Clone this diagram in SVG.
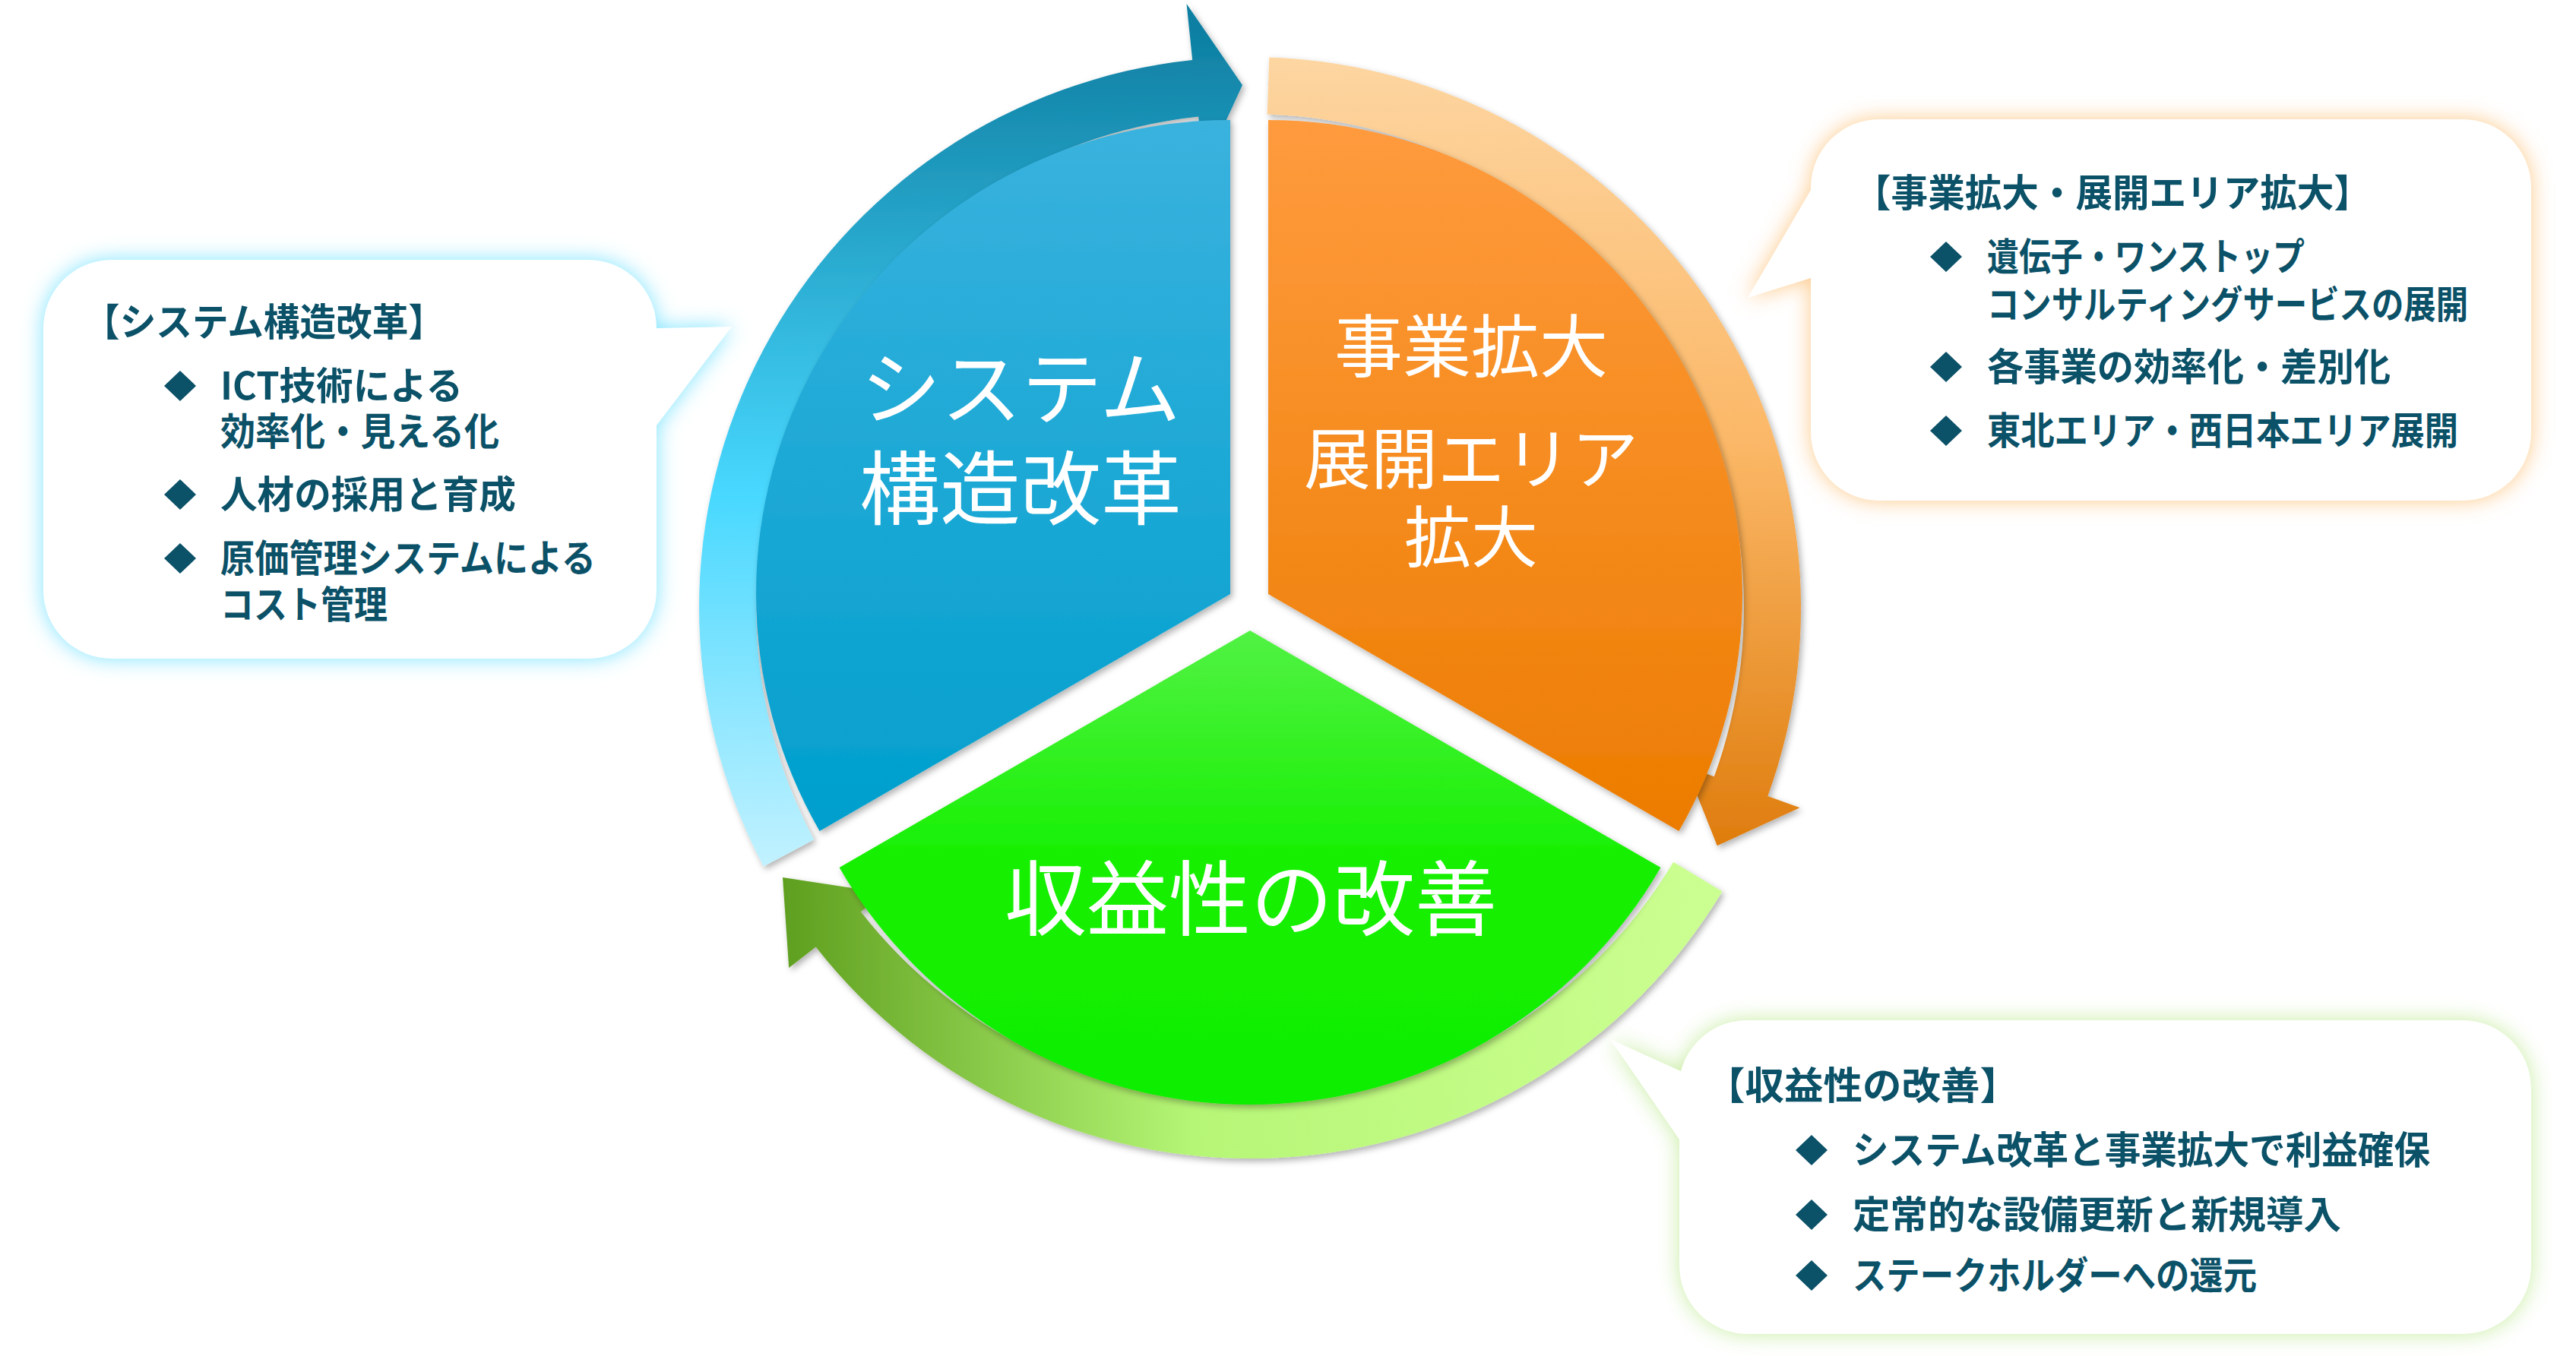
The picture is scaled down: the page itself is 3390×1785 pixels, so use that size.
<svg xmlns="http://www.w3.org/2000/svg" width="3390" height="1785" viewBox="0 0 3390 1785">
<style>
.ct{font-family:"Noto Sans CJK JP","Noto Sans",sans-serif;font-weight:700;fill:#0b5168;font-size:50px}
.st{font-family:"Noto Sans CJK JP","Noto Sans",sans-serif;font-weight:400;fill:#ffffff;text-anchor:middle}
.dm{fill:#0b5168}
</style>
<defs>
<linearGradient id="gBlueRing" gradientUnits="userSpaceOnUse" x1="0" y1="1150" x2="0" y2="40">
<stop offset="0" stop-color="#c4f2ff"/><stop offset="0.45" stop-color="#48d8ff"/><stop offset="1" stop-color="#0e7fa2"/></linearGradient>
<linearGradient id="gOrRing" gradientUnits="userSpaceOnUse" x1="0" y1="70" x2="0" y2="1110">
<stop offset="0" stop-color="#fdd6a2"/><stop offset="0.5" stop-color="#fbb766"/><stop offset="1" stop-color="#df7d0e"/></linearGradient>
<linearGradient id="gGrRing" gradientUnits="userSpaceOnUse" x1="2270" y1="0" x2="1000" y2="0">
<stop offset="0" stop-color="#ccff92"/><stop offset="0.55" stop-color="#b6f676"/><stop offset="1" stop-color="#5a9a1a"/></linearGradient>
<linearGradient id="gBlue" x1="0" y1="0" x2="0" y2="1"><stop offset="0" stop-color="#3ab2de"/><stop offset="1" stop-color="#009fcd"/></linearGradient>
<linearGradient id="gOr" x1="0" y1="0" x2="0" y2="1"><stop offset="0" stop-color="#ff9b3e"/><stop offset="1" stop-color="#ec7c00"/></linearGradient>
<linearGradient id="gGr" x1="0" y1="0" x2="0" y2="1"><stop offset="0" stop-color="#52f244"/><stop offset="0.5" stop-color="#14f000"/><stop offset="1" stop-color="#10ee00"/></linearGradient>
<filter id="sh" x="-10%" y="-10%" width="120%" height="120%"><feDropShadow dx="3" dy="4" stdDeviation="4" flood-color="#000" flood-opacity="0.3"/></filter>
<filter id="glow" x="-10%" y="-10%" width="120%" height="120%"><feGaussianBlur stdDeviation="14"/></filter>
</defs>

<g id="rings">
<path id="ring-blue" filter="url(#sh)" fill="url(#gBlueRing)" d="M1004.9,1140.4 A725,725 0 0 1 1569.2,79 L1561.5,5 L1635,112 L1584,223 L1577.1,153.6 A650,650 0 0 0 1071.1,1105.2 Z"/>
<path id="ring-orange" filter="url(#sh)" fill="url(#gOrRing)" d="M1670.3,75.4 A725,725 0 0 1 2326.3,1048 L2368.6,1063.3 L2259.8,1113.3 L2218.2,1008.6 L2255.8,1022.3 A650,650 0 0 0 1667.7,150.4 Z"/>
<path id="ring-green" filter="url(#sh)" fill="url(#gGrRing)" d="M2266.5,1173.4 A725,725 0 0 1 1073.7,1246.4 L1038.2,1274.1 L1030,1155 L1164.3,1175.6 L1132.8,1200.2 A650,650 0 0 0 2202.2,1134.8 Z"/>
</g>

<g id="node-system" filter="url(#sh)">
<path fill="url(#gBlue)" d="M1619,782 L1619,158 A624,624 0 0 0 1078.6,1094 Z"/>
<text class="st" x="1343" y="550" font-size="106">システム</text>
<text class="st" x="1343" y="682" font-size="106">構造改革</text>
</g>
<g id="node-business" filter="url(#sh)">
<path fill="url(#gOr)" d="M1669,782 L1669,158 A624,624 0 0 1 2209.4,1094 Z"/>
<text class="st" x="1936" y="489" font-size="90">事業拡大</text>
<text class="st" x="1936" y="636" font-size="88">展開エリア</text>
<text class="st" x="1936" y="739" font-size="88">拡大</text>
</g>
<g id="node-profit" filter="url(#sh)">
<path fill="url(#gGr)" d="M1645,830 L1104.6,1142 A624,624 0 0 0 2185.4,1142 Z"/>
<text class="st" x="1646" y="1223" font-size="108">収益性の改善</text>
</g>

<g id="callout-system">
<path filter="url(#glow)" fill="#7fe4ff" d="M147,342 H774 A90,90 0 0 1 864,432 L963,430 L864,560 V777 A90,90 0 0 1 774,867 H147 A90,90 0 0 1 57,777 V432 A90,90 0 0 1 147,342 Z"/>
<path fill="#ffffff" d="M147,342 H774 A90,90 0 0 1 864,432 L963,430 L864,560 V777 A90,90 0 0 1 774,867 H147 A90,90 0 0 1 57,777 V432 A90,90 0 0 1 147,342 Z"/>
<text class="ct" x="110" y="442" textLength="475" lengthAdjust="spacingAndGlyphs">【システム構造改革】</text>
<path class="dm" d="M237,488 L258,508 L237,528 L216,508 Z"/>
<text class="ct" x="290" y="526" textLength="319" lengthAdjust="spacingAndGlyphs">ICT技術による</text>
<text class="ct" x="290" y="586" textLength="367" lengthAdjust="spacingAndGlyphs">効率化・見える化</text>
<path class="dm" d="M237,631 L258,651 L237,671 L216,651 Z"/>
<text class="ct" x="290" y="669" textLength="389" lengthAdjust="spacingAndGlyphs">人材の採用と育成</text>
<path class="dm" d="M237,715 L258,735 L237,755 L216,735 Z"/>
<text class="ct" x="290" y="753" textLength="494" lengthAdjust="spacingAndGlyphs">原価管理システムによる</text>
<text class="ct" x="290" y="814" textLength="220" lengthAdjust="spacingAndGlyphs">コスト管理</text>
</g>

<g id="callout-business">
<path filter="url(#glow)" fill="#fdc98a" d="M2473,157 H3241 A90,90 0 0 1 3331,247 V569 A90,90 0 0 1 3241,659 H2473 A90,90 0 0 1 2383,569 V366 L2300,392 L2383,250 V247 A90,90 0 0 1 2473,157 Z"/>
<path fill="#ffffff" d="M2473,157 H3241 A90,90 0 0 1 3331,247 V569 A90,90 0 0 1 3241,659 H2473 A90,90 0 0 1 2383,569 V366 L2300,392 L2383,250 V247 A90,90 0 0 1 2473,157 Z"/>
<text class="ct" x="2440" y="272" textLength="680" lengthAdjust="spacingAndGlyphs">【事業拡大・展開エリア拡大】</text>
<path class="dm" d="M2561,318 L2582,338 L2561,358 L2540,338 Z"/>
<text class="ct" x="2615" y="356" textLength="418" lengthAdjust="spacingAndGlyphs">遺伝子・ワンストップ</text>
<text class="ct" x="2615" y="419" textLength="633" lengthAdjust="spacingAndGlyphs">コンサルティングサービスの展開</text>
<path class="dm" d="M2561,463 L2582,483 L2561,503 L2540,483 Z"/>
<text class="ct" x="2615" y="501" textLength="531" lengthAdjust="spacingAndGlyphs">各事業の効率化・差別化</text>
<path class="dm" d="M2561,547 L2582,567 L2561,587 L2540,567 Z"/>
<text class="ct" x="2615" y="585" textLength="620" lengthAdjust="spacingAndGlyphs">東北エリア・西日本エリア展開</text>
</g>

<g id="callout-profit">
<path filter="url(#glow)" fill="#c8eca2" d="M2300,1343 H3241 A90,90 0 0 1 3331,1433 V1666 A90,90 0 0 1 3241,1756 H2300 A90,90 0 0 1 2210,1666 V1500 L2119,1368 L2212,1410 A90,90 0 0 1 2300,1343 Z"/>
<path fill="#ffffff" d="M2300,1343 H3241 A90,90 0 0 1 3331,1433 V1666 A90,90 0 0 1 3241,1756 H2300 A90,90 0 0 1 2210,1666 V1500 L2119,1368 L2212,1410 A90,90 0 0 1 2300,1343 Z"/>
<text class="ct" x="2245" y="1447" textLength="412" lengthAdjust="spacingAndGlyphs">【収益性の改善】</text>
<path class="dm" d="M2384,1494 L2405,1514 L2384,1534 L2363,1514 Z"/>
<text class="ct" x="2438" y="1532" textLength="760" lengthAdjust="spacingAndGlyphs">システム改革と事業拡大で利益確保</text>
<path class="dm" d="M2384,1579 L2405,1599 L2384,1619 L2363,1599 Z"/>
<text class="ct" x="2438" y="1617" textLength="643" lengthAdjust="spacingAndGlyphs">定常的な設備更新と新規導入</text>
<path class="dm" d="M2384,1659 L2405,1679 L2384,1699 L2363,1679 Z"/>
<text class="ct" x="2438" y="1697" textLength="532" lengthAdjust="spacingAndGlyphs">ステークホルダーへの還元</text>
</g>
</svg>
